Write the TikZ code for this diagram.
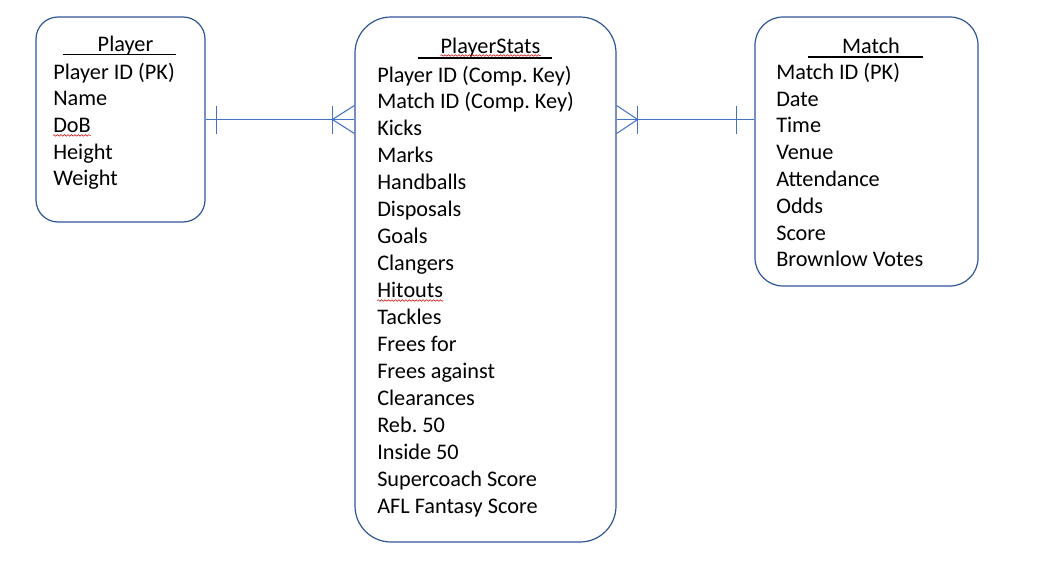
\documentclass[tikz,border=0pt]{standalone}
\usepackage{fontspec}
\setmainfont{Carlito}
\frenchspacing
\usetikzlibrary{calc,decorations.pathmorphing}
\definecolor{boxblue}{HTML}{2F5597}
\definecolor{connblue}{HTML}{4472C4}
\tikzset{
  entity/.style={draw=boxblue, line width=0.9pt, inner sep=0pt},
  attr/.style={anchor=base west, inner sep=0pt, font=\fontsize{16.7}{20}\selectfont},
  ttl/.style={anchor=base, inner sep=0pt, font=\fontsize{16.7}{20}\selectfont},
  uline/.style={line width=1.2pt, black},
  conn/.style={draw=connblue, line width=0.8pt},
  squig/.style={draw=red!80!black, line width=0.4pt, decorate, decoration={snake, amplitude=0.6pt, segment length=2.6pt}}
}
\begin{document}
\begin{tikzpicture}[x=0.75pt, y=-0.75pt]
\useasboundingbox (0,0) rectangle (1048,578);

% entity boxes
\node[entity, rounded corners=16.5pt, minimum width=126.75pt, minimum height=153.75pt] (player) at (120.5,119.5) {};
\node[entity, rounded corners=27pt, minimum width=195.75pt, minimum height=393.75pt] (stats) at (485.5,279.5) {};
\node[entity, rounded corners=21pt, minimum width=167.25pt, minimum height=201.75pt] (match) at (866.5,151.5) {};

% titles
\node[ttl] (ptitle) at (125.5,51) {Player};
\draw[uline] (63,54.5) -- (176,54.5);
\node[ttl] (stitle) at (490.5,53) {PlayerStats};
\draw[uline] (418,58) -- (552,58);
\node[ttl] (mtitle) at (871,53) {Match};
\draw[uline] (808,57) -- (923,57);

% attributes
\foreach \t [count=\i] in {Player ID (PK),Name,DoB,Height,Weight}
  \node[attr, name=pa\i] at (53,{79+26.7*(\i-1)}) {\t};
\foreach \t [count=\i] in {Player ID (Comp. Key),Match ID (Comp. Key),Kicks,Marks,Handballs,Disposals,Goals,Clangers,Hitouts,Tackles,Frees for,Frees against,Clearances,Reb. 50,Inside 50,Supercoach Score,AFL Fantasy Score}
  \node[attr, name=sa\i] at (377,{82+26.94*(\i-1)}) {\t};
\foreach \t [count=\i] in {Match ID (PK),Date,Time,Venue,Attendance,Odds,Score,Brownlow Votes}
  \node[attr, name=ma\i] at (776,{79.3+26.8*(\i-1)}) {\t};

% spell-check squiggles
\draw[squig] ($(pa3.base west)+(0,3)$) -- ($(pa3.base east)+(0,3)$);
\draw[squig] ($(stitle.base west)+(0,2.5)$) -- ($(stitle.base east)+(0,2.5)$);
\draw[squig] ($(sa9.base west)+(0,3)$) -- ($(sa9.base east)+(0,3)$);

% Player -- PlayerStats (one to many)
\coordinate (c1) at (stats.west |- player.east);
\draw[conn] (player.east) -- (c1);
\draw[conn] ($(player.east)+(11,-14)$) -- ($(player.east)+(11,14)$);
\draw[conn] ($(c1)+(-22,-14)$) -- ($(c1)+(-22,14)$);
\draw[conn] ($(c1)+(0,-14)$) -- ($(c1)+(-22,0)$) -- ($(c1)+(0,14)$);

% PlayerStats -- Match (many to one)
\coordinate (c2) at (stats.east |- player.east);
\coordinate (c3) at (match.west |- player.east);
\draw[conn] (c2) -- (c3);
\draw[conn] ($(c2)+(0,-14)$) -- ($(c2)+(21,0)$) -- ($(c2)+(0,14)$);
\draw[conn] ($(c2)+(21,-14)$) -- ($(c2)+(21,14)$);
\draw[conn] ($(c3)+(-18,-14)$) -- ($(c3)+(-18,14)$);
\end{tikzpicture}
\end{document}
